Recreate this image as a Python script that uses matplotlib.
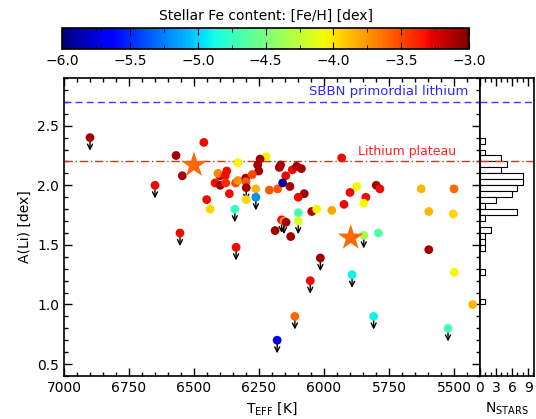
import matplotlib
matplotlib.use('Agg')
import matplotlib.pyplot as plt
import numpy as np
from matplotlib.ticker import MultipleLocator

# stars: effective temperature [K], A(Li) [dex], [Fe/H] [dex], upper limit flag
teff = [6900, 6462, 6569, 6545, 6650, 6331, 6223, 6246, 6255, 6251,
        6400, 6408, 6374, 6380, 6419, 6399, 6378, 6340, 6331, 6301,
        6276, 6300, 6299, 6262, 6299, 6262, 6364, 6451, 6438, 6343,
        6554, 6338, 6210, 6178, 6172, 6167, 6147, 6122, 6105, 6087,
        6159, 6131, 6076, 6099, 5932, 5874, 5900, 5839, 5847, 5799,
        5785, 5626, 5500, 5597, 5503, 6047, 6028, 5970, 5923, 6099,
        6099, 6163, 6154, 6146, 6188, 6128, 5847, 5791, 5597, 5499,
        6014, 6053, 5892, 6112, 6180, 5809, 5523, 5428]
ali = [2.40, 2.36, 2.25, 2.08, 2.00, 2.19, 2.24, 2.22, 2.17, 2.12,
       2.08, 2.10, 2.12, 2.08, 2.02, 2.00, 2.02, 2.02, 2.04, 2.06,
       2.09, 2.03, 1.98, 1.97, 1.88, 1.90, 1.93, 1.88, 1.80, 1.80,
       1.60, 1.48, 1.96, 1.97, 2.15, 2.17, 2.08, 2.13, 2.16, 2.14,
       2.02, 1.99, 1.93, 1.90, 2.23, 1.99, 1.94, 1.90, 1.85, 2.00,
       1.97, 1.97, 1.97, 1.78, 1.76, 1.78, 1.80, 1.79, 1.84, 1.77,
       1.70, 1.71, 1.70, 1.69, 1.62, 1.57, 1.58, 1.60, 1.46, 1.27,
       1.39, 1.20, 1.25, 0.90, 0.70, 0.90, 0.80, 1.00]
feh = [-3.10, -3.30, -3.10, -3.10, -3.30, -4.05, -4.05, -3.10, -3.10, -3.10,
       -3.10, -3.70, -3.30, -3.30, -3.30, -3.10, -3.40, -3.50, -3.75, -3.10,
       -3.50, -3.55, -3.10, -3.85, -3.95, -5.20, -3.30, -3.30, -3.95, -4.75,
       -3.30, -3.30, -3.55, -3.55, -3.10, -3.10, -3.30, -3.30, -3.10, -3.10,
       -5.95, -3.10, -3.10, -3.30, -3.30, -4.05, -3.30, -3.30, -4.05, -3.10,
       -3.30, -3.85, -3.60, -3.85, -3.95, -3.15, -4.05, -3.80, -3.30, -4.70,
       -4.15, -3.30, -3.70, -3.10, -3.10, -3.10, -4.35, -4.65, -3.10, -4.05,
       -3.10, -3.30, -4.90, -3.60, -5.70, -4.90, -4.70, -3.85]
upper = [1, 0, 0, 0, 1, 0, 0, 0, 0, 0,
         0, 0, 0, 0, 0, 0, 0, 0, 0, 0,
         0, 0, 1, 0, 0, 1, 0, 0, 0, 1,
         1, 1, 0, 0, 0, 0, 0, 0, 0, 0,
         0, 0, 0, 0, 0, 0, 0, 0, 0, 0,
         0, 0, 0, 0, 0, 0, 0, 0, 0, 0,
         1, 1, 1, 0, 0, 0, 1, 0, 0, 0,
         1, 1, 1, 1, 1, 1, 1, 0]

# highlighted stars
star_teff = [6500, 5897]
star_ali = [2.17, 1.56]
star_feh = [-3.60, -3.60]

# A(Li) distribution: lower bin edges and number of stars
hist_edges = [2.35, 2.25, 2.20, 2.15, 2.10, 2.05, 2.00, 1.95, 1.90, 1.85,
              1.80, 1.75, 1.70, 1.60, 1.55, 1.50, 1.45, 1.25, 1.00]
hist_counts = [1, 1, 4, 5, 4, 8, 8, 7, 6, 3,
               1, 7, 1, 2, 1, 1, 1, 1, 1]
bin_width = 0.05

sbbn_li = 2.70
plateau_li = 2.20


def style_axis(ax):
    ax.tick_params(which='both', direction='in', top=True, right=True,
                   labelsize=10, width=1)
    ax.tick_params(which='major', length=6)
    ax.tick_params(which='minor', length=3)
    for s in ax.spines.values():
        s.set_linewidth(1.2)


def main():
    plt.rcParams['font.family'] = 'DejaVu Sans'
    fig = plt.figure(figsize=(5.36, 4.19), dpi=100)

    ax = fig.add_axes([0.1194, 0.1026, 0.7761, 0.7112])
    axh = fig.add_axes([0.8955, 0.1026, 0.1008, 0.7112], sharey=ax)
    cax = fig.add_axes([0.1166, 0.883, 0.7584, 0.050])

    cmap = plt.get_cmap('jet')
    norm = matplotlib.colors.Normalize(vmin=-6.0, vmax=-3.0)

    t = np.array(teff)
    a = np.array(ali)
    up = np.array(upper, dtype=bool)

    # upper limit arrows
    for x, y in zip(t[up], a[up]):
        ax.annotate('', xy=(x, y - 0.11), xytext=(x, y),
                    arrowprops=dict(arrowstyle='->', color='k', lw=1.0,
                                    shrinkA=0, shrinkB=0, mutation_scale=9),
                    zorder=2)

    sc = ax.scatter(t, a, c=feh, cmap=cmap, norm=norm, s=40,
                    edgecolors='none', zorder=3)
    ax.scatter(star_teff, star_ali, c=star_feh, cmap=cmap, norm=norm,
               marker='*', s=380, edgecolors='none', zorder=4)

    for axx in (ax, axh):
        axx.axhline(sbbn_li, color='#3a3aff', ls=(0, (5, 3)), lw=1.0)
        axx.axhline(plateau_li, color='#ff2020', ls=(0, (6, 2, 1, 2)), lw=1.0)

    ax.text(5445, 2.73, 'SBBN primordial lithium', color='#2a2aff',
            fontsize=9.5, ha='right', va='bottom')
    ax.text(5490, 2.23, 'Lithium plateau', color='#ff2020',
            fontsize=9, ha='right', va='bottom')

    ax.set_xlim(7000, 5400)
    ax.set_ylim(0.4, 2.9)
    ax.set_xticks([7000, 6750, 6500, 6250, 6000, 5750, 5500])
    ax.xaxis.set_minor_locator(MultipleLocator(50))
    ax.set_yticks([0.5, 1.0, 1.5, 2.0, 2.5])
    ax.yaxis.set_minor_locator(MultipleLocator(0.1))
    ax.set_xlabel(r'T$_{\rm EFF}$ [K]', fontsize=10)
    ax.set_ylabel('A(Li) [dex]', fontsize=10)
    style_axis(ax)

    # histogram of A(Li)
    axh.barh(np.array(hist_edges), hist_counts, height=bin_width,
             align='edge', facecolor='white', edgecolor='k', lw=0.8)
    axh.set_xlim(0, 10.1)
    axh.set_xticks([0, 3, 6, 9])
    axh.xaxis.set_minor_locator(MultipleLocator(1))
    style_axis(axh)
    axh.tick_params(axis='y', which='both', left=False, right=False,
                    labelleft=False)
    axh.set_xlabel(r'N$_{\rm STARS}$', fontsize=10)

    cb = fig.colorbar(sc, cax=cax, orientation='horizontal')
    cb.set_ticks([-6.0, -5.5, -5.0, -4.5, -4.0, -3.5, -3.0])
    cb.ax.xaxis.set_minor_locator(MultipleLocator(0.25))
    cb.ax.tick_params(which='both', direction='in', top=True, bottom=True,
                      labelsize=10)
    cb.ax.tick_params(which='major', length=5)
    cb.ax.tick_params(which='minor', length=3)
    cb.outline.set_linewidth(1.2)
    cb.ax.set_title('Stellar Fe content: [Fe/H] [dex]', fontsize=10, pad=6)

    fig.savefig('out.png', dpi=100)


if __name__ == "__main__":
    main()
